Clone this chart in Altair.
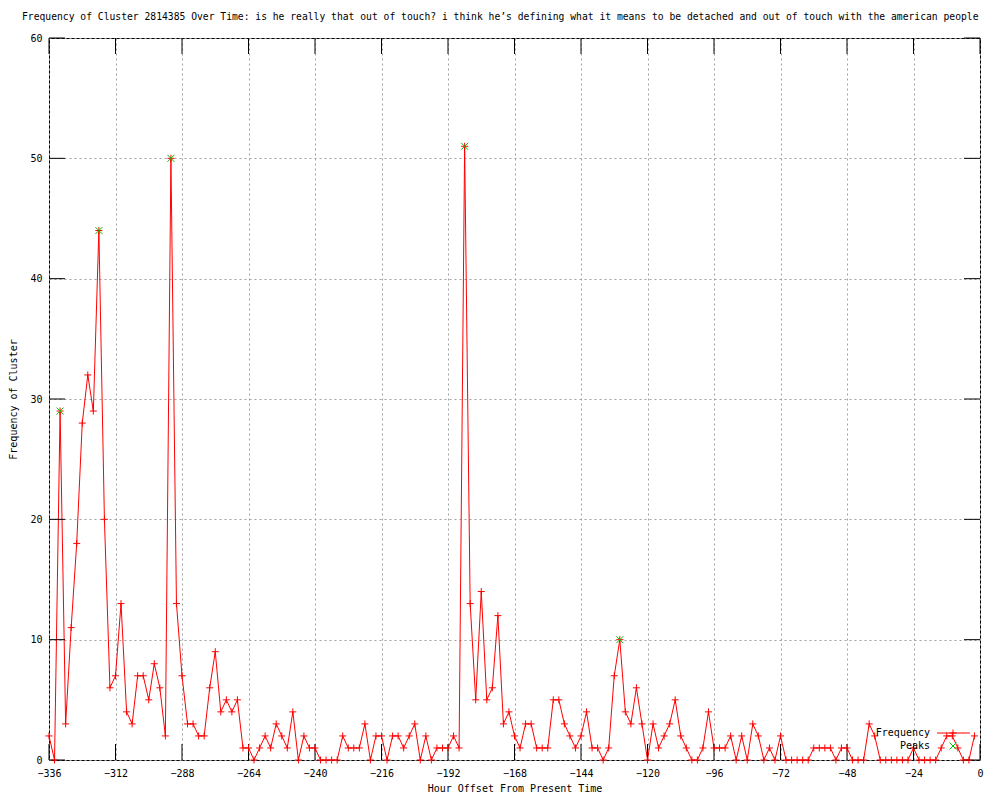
import altair as alt
import pandas as pd

# ---------------- data ----------------
hours = list(range(-336, 0, 2))  # one reading every 2 hours, -336 .. -2
freq = [
    2, 0, 29, 3, 11, 18, 28, 32, 29, 44, 20, 6,      # -336 .. -314
    7, 13, 4, 3, 7, 7, 5, 8, 6, 2, 50, 13,           # -312 .. -290
    7, 3, 3, 2, 2, 6, 9, 4, 5, 4, 5, 1,              # -288 .. -266
    1, 0, 1, 2, 1, 3, 2, 1, 4, 0, 2, 1,              # -264 .. -242
    1, 0, 0, 0, 0, 2, 1, 1, 1, 3, 0, 2,              # -240 .. -218
    2, 0, 2, 2, 1, 2, 3, 0, 2, 0, 1, 1,              # -216 .. -194
    1, 2, 1, 51, 13, 5, 14, 5, 6, 12, 3, 4,          # -192 .. -170
    2, 1, 3, 3, 1, 1, 1, 5, 5, 3, 2, 1,              # -168 .. -146
    2, 4, 1, 1, 0, 1, 7, 10, 4, 3, 6, 3,             # -144 .. -122
    0, 3, 1, 2, 3, 5, 2, 1, 0, 0, 1, 4,              # -120 .. -98
    1, 1, 1, 2, 0, 2, 0, 3, 2, 0, 1, 0,              # -96 .. -74
    2, 0, 0, 0, 0, 0, 1, 1, 1, 1, 0, 1,              # -72 .. -50
    1, 0, 0, 0, 3, 2, 0, 0, 0, 0, 0, 0,              # -48 .. -26
    1, 0, 0, 0, 0, 1, 2, 2, 1, 0, 0, 2,              # -24 .. -2
]
peak_hours = [-332, -318, -292, -186, -130]
x_ticks = [-336, -312, -288, -264, -240, -216, -192, -168, -144, -120, -96, -72, -48, -24, 0]
y_ticks = [0, 10, 20, 30, 40, 50, 60]
title_text = ("Frequency of Cluster 2814385 Over Time: is he really that out of touch? "
              "i think he\u2019s defining what it means to be detached and out of touch "
              "with the american people")
x_title = "Hour Offset From Present Time"
y_title = "Frequency of Cluster"
legend_labels = ["Frequency", "Peaks"]

# ---------------- layout / style ----------------
W, H = 931, 722
TICK = 16
FONT = "DejaVu Sans Mono"
RED = "#ff0000"
GREEN = "#00c000"
PLUS = "M-1,0L1,0M0,-1L0,1"
CROSS = "M-1,-1L1,1M-1,1L1,-1"

df = pd.DataFrame({"hour": hours, "freq": freq})
lookup = dict(zip(hours, freq))
peaks = pd.DataFrame({"hour": peak_hours, "freq": [lookup[h] for h in peak_hours]})

xscale = alt.Scale(domain=[-336, 0], nice=False, zero=False)
yscale = alt.Scale(domain=[0, 60], nice=False, zero=False)

x_axis = alt.Axis(
    values=x_ticks, format="d", grid=True, gridColor="#a0a0a0", gridDash=[2, 3], gridWidth=1,
    ticks=False, tickSize=0, domain=False, labelFont=FONT, labelFontSize=10, labelColor="black",
    labelPadding=8, labelFlush=False, labelOverlap=False,
    title=x_title, titleFont=FONT, titleFontSize=10, titleFontWeight="normal", titleColor="black",
    titleX=W / 2, titleY=31, titleBaseline="alphabetic", titleAlign="center",
)
y_axis = alt.Axis(
    values=y_ticks, format="d", grid=True, gridColor="#a0a0a0", gridDash=[2, 3], gridWidth=1,
    ticks=False, tickSize=0, domain=False, labelFont=FONT, labelFontSize=10, labelColor="black",
    labelPadding=7, labelFlush=False, labelOverlap=False,
    title=y_title, titleFont=FONT, titleFontSize=10, titleFontWeight="normal", titleColor="black",
    titleX=-36, titleY=H / 2, titleAngle=270, titleBaseline="middle", titleAlign="center",
)


def X(field):
    return alt.X(field, scale=xscale, axis=x_axis)


def Y(field):
    return alt.Y(field, scale=yscale, axis=y_axis)


line = alt.Chart(df).mark_line(color=RED, strokeWidth=1).encode(
    x=X("hour:Q"), y=Y("freq:Q"))
points = alt.Chart(df).mark_point(
    shape=PLUS, filled=False, color=RED, strokeWidth=1, size=49, opacity=1
).encode(x=X("hour:Q"), y=Y("freq:Q"))
peak_pts = alt.Chart(peaks).mark_point(
    shape=CROSS, filled=False, color=GREEN, strokeWidth=1, size=49, opacity=1
).encode(x=X("hour:Q"), y=Y("freq:Q"))

xt = pd.DataFrame({"hour": x_ticks})
yt = pd.DataFrame({"freq": y_ticks})
tick_style = dict(color="black", strokeWidth=1)
bottom_ticks = alt.Chart(xt).mark_rule(**tick_style).encode(
    x=X("hour:Q"), y=alt.value(H), y2=alt.value(H - TICK))
top_ticks = alt.Chart(xt).mark_rule(**tick_style).encode(
    x=X("hour:Q"), y=alt.value(0), y2=alt.value(TICK))
left_ticks = alt.Chart(yt).mark_rule(**tick_style).encode(
    y=Y("freq:Q"), x=alt.value(0), x2=alt.value(TICK))
right_ticks = alt.Chart(yt).mark_rule(**tick_style).encode(
    y=Y("freq:Q"), x=alt.value(W), x2=alt.value(W - TICK))

# title (gnuplot style: starts near the left edge and spans nearly the full width)
title_mark = alt.Chart(pd.DataFrame({"t": [title_text]})).mark_text(
    align="left", baseline="middle", font=FONT, fontSize=9.7, color="black"
).encode(text="t:N", x=alt.value(-27), y=alt.value(-21))

# legend (gnuplot key: label on the left, sample on the right)
LX_TEXT, LX_SAMPLE0, LX_SAMPLE1, LX_MID = 881, 888, 921, 904
LY1, LY2 = 695, 708
leg_txt1 = alt.Chart(pd.DataFrame({"l": [legend_labels[0]]})).mark_text(
    align="right", baseline="middle", font=FONT, fontSize=10, color="black"
).encode(text="l:N", x=alt.value(LX_TEXT), y=alt.value(LY1))
leg_txt2 = alt.Chart(pd.DataFrame({"l": [legend_labels[1]]})).mark_text(
    align="right", baseline="middle", font=FONT, fontSize=10, color="black"
).encode(text="l:N", x=alt.value(LX_TEXT), y=alt.value(LY2))
leg_line = alt.Chart(pd.DataFrame({"l": [legend_labels[0]]})).mark_rule(color=RED, strokeWidth=1).encode(
    x=alt.value(LX_SAMPLE0), x2=alt.value(LX_SAMPLE1), y=alt.value(LY1))
leg_plus = alt.Chart(pd.DataFrame({"l": [legend_labels[0]]})).mark_point(
    shape=PLUS, filled=False, color=RED, strokeWidth=1, size=49, opacity=1
).encode(x=alt.value(LX_MID), y=alt.value(LY1))
leg_cross = alt.Chart(pd.DataFrame({"l": [legend_labels[1]]})).mark_point(
    shape=CROSS, filled=False, color=GREEN, strokeWidth=1, size=49, opacity=1
).encode(x=alt.value(LX_MID), y=alt.value(LY2))

chart = alt.layer(
    line, bottom_ticks, top_ticks, left_ticks, right_ticks, points, peak_pts,
    title_mark, leg_txt1, leg_txt2, leg_line, leg_plus, leg_cross,
).properties(
    width=W, height=H,
    autosize=alt.AutoSizeParams(type="none"),
    padding={"left": 41, "top": 30, "right": 12, "bottom": 32},
    background="white",
).configure_view(stroke="black", strokeWidth=1)

chart.save("out.html", embed_options={"renderer": "svg", "actions": False})
